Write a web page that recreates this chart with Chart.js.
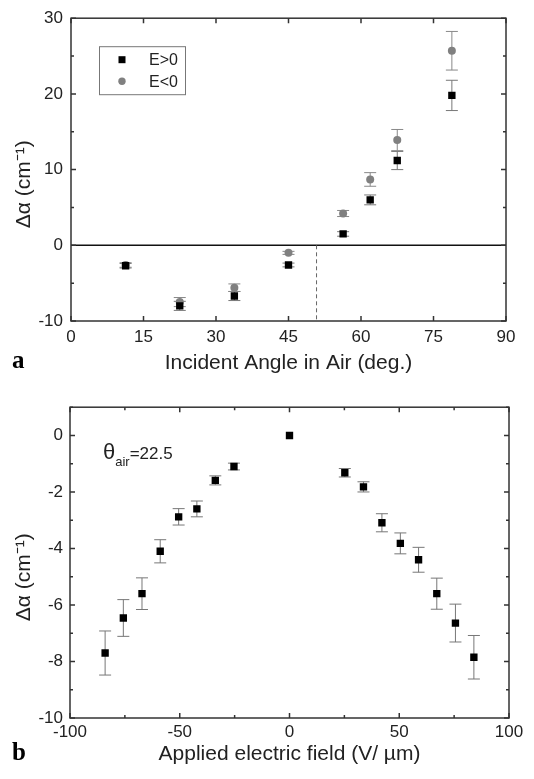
<!DOCTYPE html>
<html>
<head>
<meta charset="utf-8">
<script src="https://cdn.jsdelivr.net/npm/chart.js@4.4.0/dist/chart.umd.min.js"></script>
<style>
    body { margin: 0; background: #fff; }
    canvas { display: block; }
</style>
</head>
<body>
<canvas id="chart-a" width="534" height="390"></canvas>
<canvas id="chart-b" width="534" height="389"></canvas>
<script>
// Panel a: incident angle scan
const anglesA = [11.3, 22.5, 33.8, 45.0, 56.3, 61.9, 67.5, 78.8];
const posFieldA = [-2.7, -8.0, -6.7, -2.6, 1.5, 6.0, 11.2, 19.8];
const posErrA = [0.3, 0.6, 0.6, 0.25, 0.3, 0.65, 1.2, 2.0];
const negFieldA = [-2.6, -7.5, -5.6, -1.0, 4.2, 8.7, 13.9, 25.7];
const negErrA = [0.3, 0.6, 0.5, 0.2, 0.4, 0.9, 1.4, 2.55];
const legendA = ['E>0', 'E<0'];
const criticalAngle = 50.8;

// Panel b: applied field scan
const fieldsB = [-84, -75.7, -67.2, -58.9, -50.5, -42.2, -33.8, -25.3, 0, 25.2, 33.7, 42.1, 50.5, 58.8, 67.1, 75.6, 84];
const deltaB = [-7.7, -6.46, -5.6, -4.1, -2.88, -2.6, -1.59, -1.1, 0, -1.32, -1.82, -3.09, -3.82, -4.4, -5.6, -6.64, -7.85];
const errB = [0.78, 0.65, 0.56, 0.41, 0.29, 0.28, 0.16, 0.12, 0, 0.15, 0.18, 0.32, 0.37, 0.44, 0.55, 0.67, 0.77];

const FONT = '"Liberation Sans", Arial, sans-serif';
const TEXT = '#222';
// trailing spaces push the rotated title down, as in the original
const Y_TITLE = 'Δα (cm⁻¹)     ';

function toPoints(xs, ys) {
    return xs.map((x, i) => ({ x: x, y: ys[i] }));
}

// error bars, drawn under the markers
const errorBars = {
    id: 'errorBars',
    beforeDatasetsDraw(chart) {
        const { ctx, scales: { x, y } } = chart;
        chart.data.datasets.forEach(ds => {
            if (!ds.errors) return;
            ctx.save();
            ctx.strokeStyle = ds.errorColor;
            ctx.lineWidth = 1;
            ds.data.forEach((p, i) => {
                const e = ds.errors[i];
                if (!e) return;
                const px = x.getPixelForValue(p.x);
                const top = y.getPixelForValue(p.y + e);
                const bot = y.getPixelForValue(p.y - e);
                ctx.beginPath();
                ctx.moveTo(px, top); ctx.lineTo(px, bot);
                ctx.moveTo(px - 6, top); ctx.lineTo(px + 6, top);
                ctx.moveTo(px - 6, bot); ctx.lineTo(px + 6, bot);
                ctx.stroke();
            });
            ctx.restore();
        });
    }
};

// closed frame with inward ticks on all four sides
const frameTicks = {
    id: 'frameTicks',
    afterDraw(chart) {
        const { ctx, chartArea: a, scales: { x, y } } = chart;
        ctx.save();
        ctx.strokeStyle = '#333';
        ctx.lineWidth = 1.5;
        ctx.beginPath();
        x.ticks.forEach(t => {
            const px = x.getPixelForValue(t.value);
            const len = t.label !== '' ? 5 : 3;
            ctx.moveTo(px, a.bottom); ctx.lineTo(px, a.bottom - len);
            ctx.moveTo(px, a.top); ctx.lineTo(px, a.top + len);
        });
        y.ticks.forEach(t => {
            const py = y.getPixelForValue(t.value);
            const len = t.label !== '' ? 5 : 3;
            ctx.moveTo(a.left, py); ctx.lineTo(a.left + len, py);
            ctx.moveTo(a.right, py); ctx.lineTo(a.right - len, py);
        });
        ctx.stroke();
        ctx.strokeRect(a.left, a.top, a.right - a.left, a.bottom - a.top);
        ctx.restore();
    }
};

// panel letter (a / b)
const panelLetter = {
    id: 'panelLetter',
    afterDraw(chart, args, opts) {
        const ctx = chart.ctx;
        ctx.save();
        ctx.fillStyle = '#000';
        ctx.font = 'bold 25px "Liberation Serif", serif';
        ctx.textBaseline = 'alphabetic';
        ctx.fillText(opts.text, opts.x, opts.y);
        ctx.restore();
    }
};

// zero line, dashed critical angle and legend box for panel a
const panelAExtras = {
    id: 'panelAExtras',
    beforeDatasetsDraw(chart) {
        const { ctx, chartArea: a, scales: { x, y } } = chart;
        ctx.save();
        const y0 = y.getPixelForValue(0);
        ctx.strokeStyle = '#111';
        ctx.lineWidth = 1.5;
        ctx.beginPath();
        ctx.moveTo(a.left, y0); ctx.lineTo(a.right, y0);
        ctx.stroke();
        ctx.strokeStyle = '#666';
        ctx.lineWidth = 1;
        ctx.setLineDash([4, 3]);
        const xc = x.getPixelForValue(criticalAngle);
        ctx.beginPath();
        ctx.moveTo(xc, y0); ctx.lineTo(xc, a.bottom);
        ctx.stroke();
        ctx.restore();
    },
    afterDraw(chart) {
        const { ctx, chartArea: a } = chart;
        const bx = a.left + 28, by = a.top + 28, bw = 86, bh = 48;
        ctx.save();
        ctx.strokeStyle = '#777';
        ctx.lineWidth = 1;
        ctx.strokeRect(bx + 0.5, by + 0.5, bw, bh);
        ctx.font = '16px ' + FONT;
        ctx.textBaseline = 'middle';
        chart.data.datasets.forEach((ds, i) => {
            const cy = by + 13.5 + i * 21.5;
            const cx = bx + 23;
            ctx.fillStyle = ds.backgroundColor;
            if (ds.pointStyle === 'rect') {
                ctx.fillRect(cx - 3.5, cy - 3.5, 7, 7);
            } else {
                ctx.beginPath();
                ctx.arc(cx, cy, 3.7, 0, Math.PI * 2);
                ctx.fill();
            }
            ctx.fillStyle = TEXT;
            ctx.fillText(legendA[i], bx + 50, cy + 1);
        });
        ctx.restore();
    }
};

// theta_air annotation for panel b
const thetaNote = {
    id: 'thetaNote',
    afterDraw(chart) {
        const { ctx, chartArea: a } = chart;
        let x = a.left + 33;
        const base = a.top + 52;
        ctx.save();
        ctx.fillStyle = TEXT;
        ctx.font = '22px ' + FONT;
        ctx.fillText('θ', x, base);
        x += ctx.measureText('θ').width;
        ctx.font = '13px ' + FONT;
        ctx.fillText('air', x, base + 7);
        x += ctx.measureText('air').width;
        ctx.font = '17px ' + FONT;
        ctx.fillText('=22.5', x, base);
        ctx.restore();
    }
};

function axis(opts) {
    return {
        type: 'linear',
        min: opts.min,
        max: opts.max,
        afterFit: opts.afterFit,
        grid: { display: false, drawTicks: false },
        border: { display: false },
        ticks: {
            stepSize: opts.step,
            autoSkip: false,
            maxRotation: 0,
            padding: opts.padding,
            color: TEXT,
            font: { family: FONT, size: 17 },
            callback: opts.label
        },
        title: {
            display: true,
            text: opts.title,
            color: TEXT,
            font: { family: FONT, size: 21 },
            padding: opts.titlePadding
        }
    };
}

new Chart(document.getElementById('chart-a'), {
    type: 'scatter',
    data: {
        datasets: [
            {
                label: legendA[0],
                data: toPoints(anglesA, posFieldA),
                errors: posErrA,
                errorColor: '#777',
                pointStyle: 'rect',
                pointRadius: 5.2,
                backgroundColor: '#000',
                borderColor: '#000',
                borderWidth: 0
            },
            {
                label: legendA[1],
                data: toPoints(anglesA, negFieldA),
                errors: negErrA,
                errorColor: '#888',
                pointStyle: 'circle',
                pointRadius: 4,
                backgroundColor: '#808080',
                borderColor: '#808080',
                borderWidth: 0
            }
        ]
    },
    options: {
        responsive: false,
        animation: false,
        layout: { padding: { top: 14, right: 28, left: 0, bottom: 0 } },
        plugins: {
            legend: { display: false },
            tooltip: { enabled: false },
            panelLetter: { text: 'a', x: 12, y: 368 }
        },
        scales: {
            x: axis({
                min: 0, max: 90, step: 15, padding: 6,
                label: v => String(v),
                title: 'Incident Angle in Air (deg.)',
                titlePadding: { top: 4, bottom: 14 },
                afterFit: s => { s.height = 69; }
            }),
            y: axis({
                min: -10, max: 30, step: 5, padding: 8,
                label: v => (v % 10 === 0 ? String(v) : ''),
                title: Y_TITLE,
                titlePadding: { top: 12, bottom: 2 },
                afterFit: s => { s.width = 71; }
            })
        }
    },
    plugins: [errorBars, panelAExtras, frameTicks, panelLetter]
});

new Chart(document.getElementById('chart-b'), {
    type: 'scatter',
    data: {
        datasets: [
            {
                label: 'E scan',
                data: toPoints(fieldsB, deltaB),
                errors: errB,
                errorColor: '#777',
                pointStyle: 'rect',
                pointRadius: 5.2,
                backgroundColor: '#000',
                borderColor: '#000',
                borderWidth: 0
            }
        ]
    },
    options: {
        responsive: false,
        animation: false,
        layout: { padding: { top: 16, right: 25, left: 0, bottom: 0 } },
        plugins: {
            legend: { display: false },
            tooltip: { enabled: false },
            panelLetter: { text: 'b', x: 12, y: 370 }
        },
        scales: {
            x: axis({
                min: -100, max: 100, step: 25, padding: 4,
                label: v => (v % 50 === 0 ? String(v) : ''),
                title: 'Applied electric field (V/ µm)',
                titlePadding: { top: 2, bottom: 12 },
                afterFit: s => { s.height = 61; }
            }),
            y: axis({
                min: -10, max: 1, step: 1, padding: 7,
                label: v => (v % 2 === 0 ? String(v) : ''),
                title: Y_TITLE,
                titlePadding: { top: 12, bottom: 2 },
                afterFit: s => { s.width = 70; }
            })
        }
    },
    plugins: [errorBars, frameTicks, thetaNote, panelLetter]
});
</script>
</body>
</html>
